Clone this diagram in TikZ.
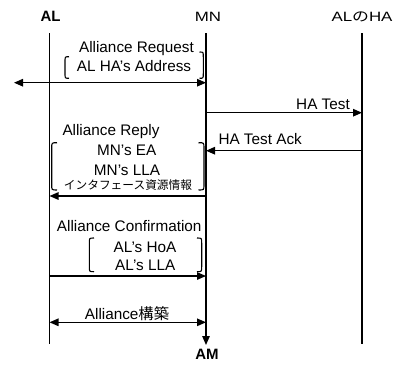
\documentclass[tikz,border=0pt]{standalone}
\usepackage{graphicx}
\usepackage{fontspec}
\setmainfont{Liberation Sans}
\newfontfamily\jpfont{Noto Sans CJK JP}
\usetikzlibrary{arrows.meta}

\begin{document}
\begin{tikzpicture}[x=1pt,y=-1pt,
  lifeline/.style={line width=1.3pt},
  tip/.tip={Triangle[length=9pt,width=7.5pt]},
  msg/.style={line width=1.3pt,-tip},
  msgboth/.style={line width=1.3pt,tip-tip},
  brk/.style={line width=1.1pt},
  lbl/.style={inner sep=0pt,anchor=base,font=\fontsize{15.3}{18}\selectfont},
  head/.style={inner sep=0pt,anchor=base,font=\fontsize{13.5}{16}\selectfont},
  boldhead/.style={inner sep=0pt,anchor=base,font=\fontsize{15}{17}\selectfont\bfseries}]
\useasboundingbox (0,0) rectangle (395,368);

% lifeline headers
\node[boldhead] (hAL) at (50.5,21.3) {AL};
\node[head] (hMN) at (208,21.3) {\scalebox{1.25}[1]{MN}};
\node[head] (hHA) at (362,21.3) {\scalebox{1.25}[1]{AL{\jpfont の}HA}};

% lifelines
\coordinate (alTop) at (49.5,33);
\coordinate (alBot) at (49.5,344);
\coordinate (mnTop) at (206,33);
\coordinate (mnBot) at (206,345);
\coordinate (haTop) at (362,33);
\coordinate (haBot) at (362,344);
\draw[lifeline] (alTop) -- (alBot);
\draw[lifeline] (haTop) -- (haBot);
\draw[msg] (mnTop) -- (mnBot);
\node[boldhead] (am) at (207,359.8) {AM};

% message end points on the lifelines
\coordinate (reqL) at (14,82.7);
\coordinate (reqM) at (206,82.7);
\coordinate (testM) at (206,112.7);
\coordinate (testH) at (362,112.7);
\coordinate (ackH) at (362,150.7);
\coordinate (ackM) at (206,150.7);
\coordinate (repM) at (206,196);
\coordinate (repA) at (49.5,196);
\coordinate (confA) at (49.5,276);
\coordinate (confM) at (206,276);
\coordinate (allA) at (49.5,322.3);
\coordinate (allM) at (206,322.3);

% Alliance Request
\draw[msgboth] (reqL) -- (reqM);
\node[lbl] (reqT1) at (136.5,52.7) {Alliance Request};
\node[lbl] (reqT2) at (134,71.7) {AL HA’s Address};
\draw[brk] (69,56.7) .. controls (65,56.7) .. (65,61.5) -- (65,73.5) .. controls (65,78.3) .. (69,78.3);
\draw[brk] (199.5,52) .. controls (203.3,52) .. (203.3,57) -- (203.3,73.5) .. controls (203.3,78.3) .. (199.5,78.3);

% HA Test
\draw[msg] (testM) -- (testH);
\node[lbl,anchor=base east] (testT) at (350,109.3) {HA Test};

% HA Test Ack
\draw[msg] (ackH) -- (ackM);
\node[lbl,anchor=base west] (ackT) at (218.3,144.3) {HA Test Ack};

% Alliance Reply
\draw[msg] (repM) -- (repA);
\node[lbl,anchor=base west] (repT) at (62.3,135) {Alliance Reply};
\node[lbl] (repT1) at (126.7,155) {MN’s EA};
\node[lbl] (repT2) at (127,175) {MN’s LLA};
\node[inner sep=0pt,anchor=base,font=\fontsize{11.7}{14}\selectfont\jpfont] (repT3) at (128,189.5) {インタフェース資源情報};
\draw[brk] (57,142.7) .. controls (51.7,142.7) .. (51.7,148) -- (51.7,184.7) .. controls (51.7,190) .. (57,190);
\draw[brk] (198.5,142.7) .. controls (204,142.7) .. (204,148) -- (204,184.7) .. controls (204,190) .. (198.5,190);

% Alliance Confirmation
\draw[msg] (confA) -- (confM);
\node[lbl,anchor=base west] (confT) at (56.7,231.7) {Alliance Confirmation};
\node[lbl] (confT1) at (145,252) {AL’s HoA};
\node[lbl] (confT2) at (145.3,270.7) {AL’s LLA};
\draw[brk] (94,238) .. controls (89.3,238) .. (89.3,243) -- (89.3,266.7) .. controls (89.3,271.7) .. (94,271.7);
\draw[brk] (197,238) .. controls (201.7,238) .. (201.7,243) -- (201.7,266.7) .. controls (201.7,271.7) .. (197,271.7);

% Alliance establishment
\draw[msgboth] (allA) -- (allM);
\node[lbl] (allT) at (127,319) {Alliance{\jpfont 構築}};
\end{tikzpicture}
\end{document}
